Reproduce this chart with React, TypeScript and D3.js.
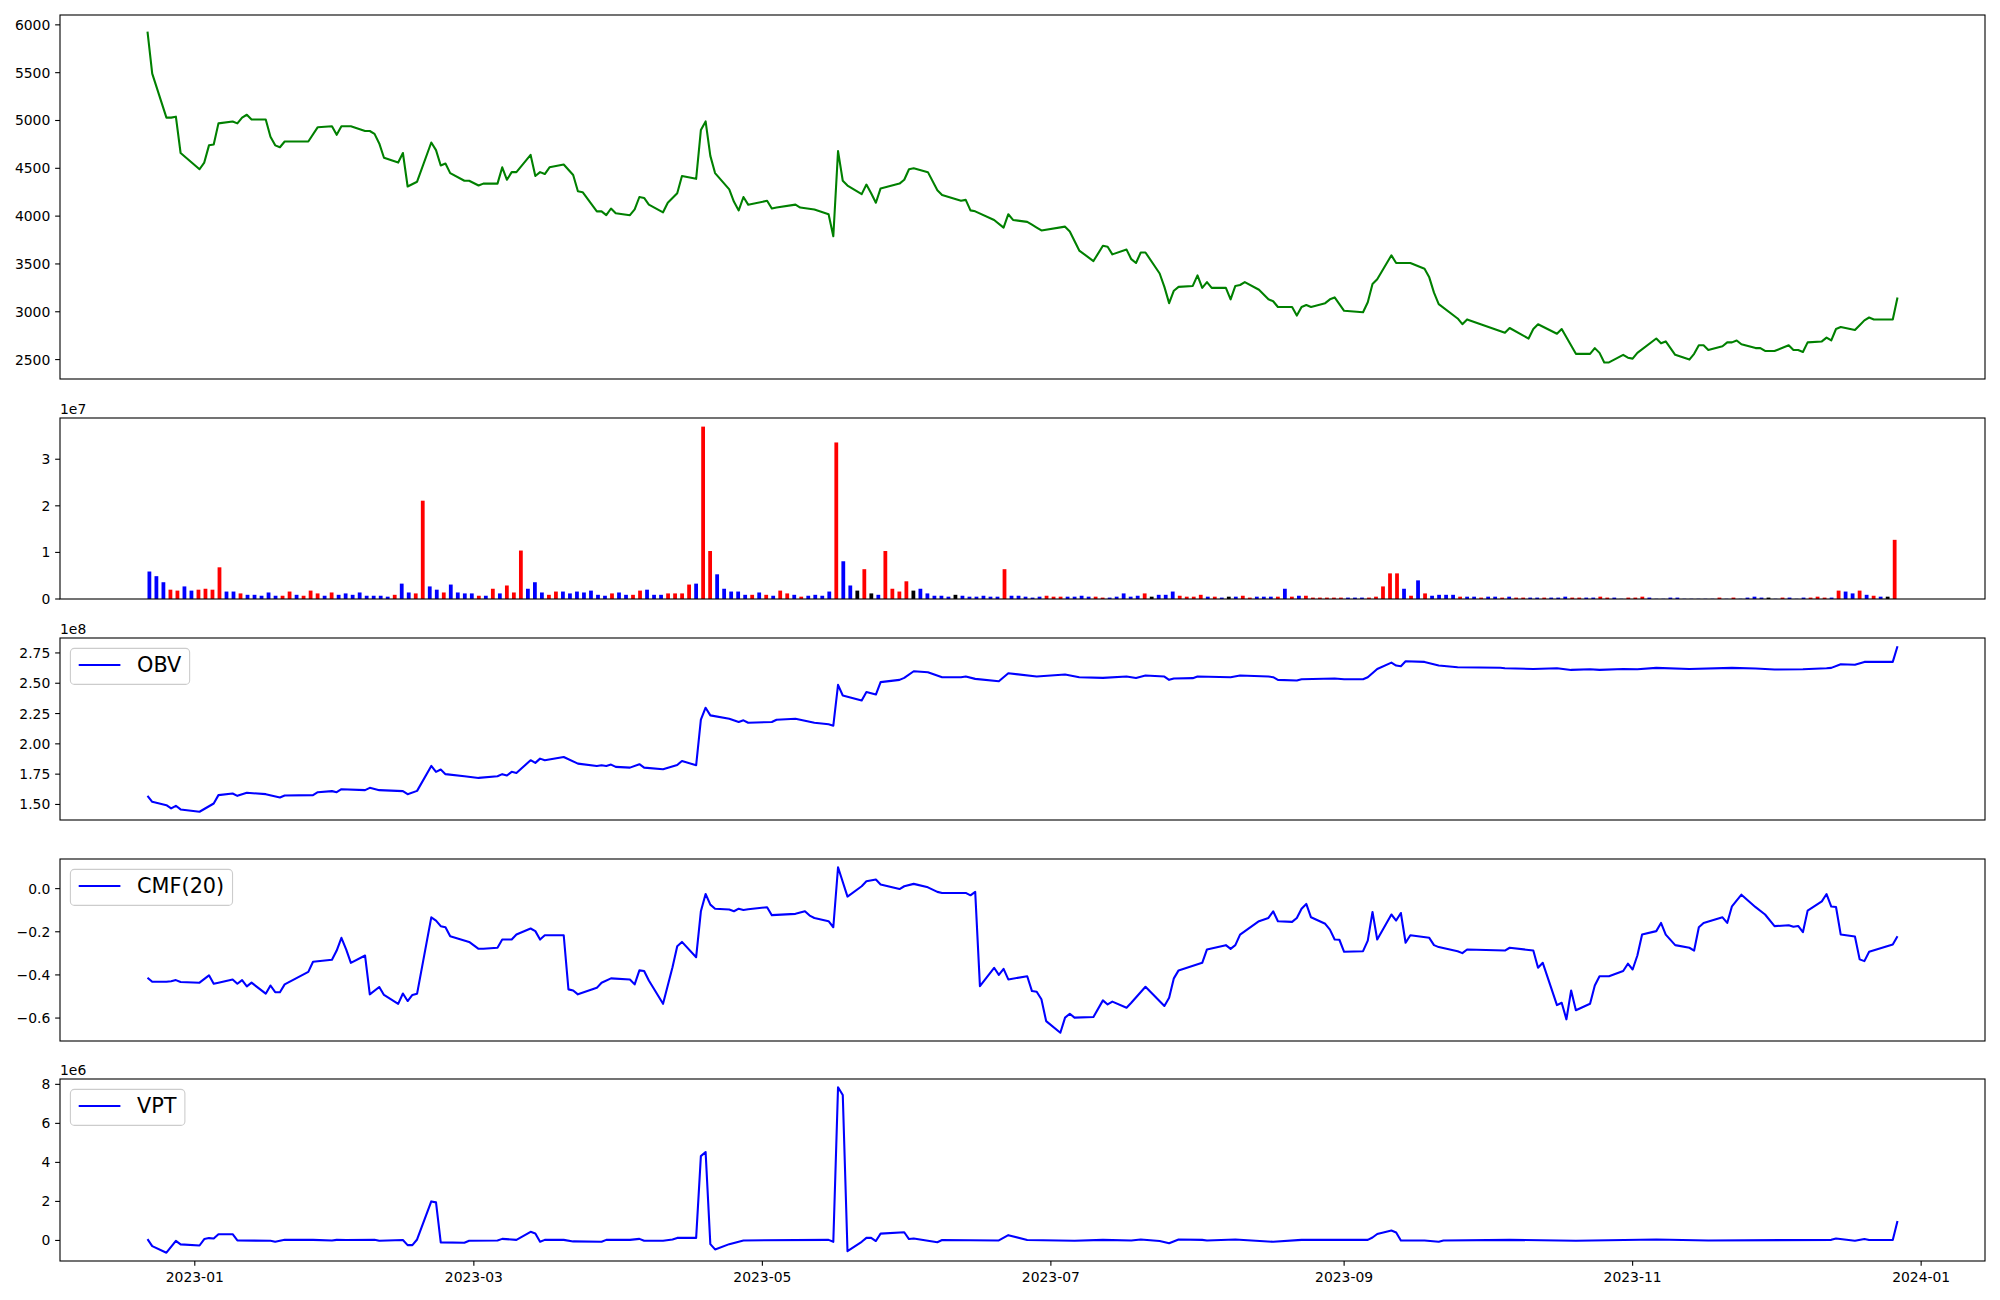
import React, { useEffect, useRef } from 'react';
import * as d3 from 'd3';

// closing price, [date, price] at the visible vertices of the line
const PRICE: [string, number][] = [
  ['2022-12-22', 5930], ['2022-12-23', 5490], ['2022-12-26', 5030], ['2022-12-27', 5030], ['2022-12-28', 5040],
  ['2022-12-29', 4660], ['2023-01-02', 4490], ['2023-01-03', 4560], ['2023-01-04', 4740], ['2023-01-05', 4750],
  ['2023-01-06', 4970], ['2023-01-09', 4990], ['2023-01-10', 4970], ['2023-01-11', 5030], ['2023-01-12', 5060],
  ['2023-01-13', 5010], ['2023-01-16', 5010], ['2023-01-17', 4830], ['2023-01-18', 4740], ['2023-01-19', 4720],
  ['2023-01-20', 4780], ['2023-01-25', 4780], ['2023-01-27', 4930], ['2023-01-30', 4940], ['2023-01-31', 4850],
  ['2023-02-01', 4940], ['2023-02-03', 4940], ['2023-02-06', 4890], ['2023-02-07', 4890], ['2023-02-08', 4860],
  ['2023-02-09', 4760], ['2023-02-10', 4610], ['2023-02-13', 4560], ['2023-02-14', 4660], ['2023-02-15', 4310],
  ['2023-02-17', 4360], ['2023-02-20', 4770], ['2023-02-21', 4690], ['2023-02-22', 4530], ['2023-02-23', 4550],
  ['2023-02-24', 4450], ['2023-02-27', 4370], ['2023-02-28', 4370], ['2023-03-02', 4320], ['2023-03-03', 4340],
  ['2023-03-06', 4340], ['2023-03-07', 4510], ['2023-03-08', 4380], ['2023-03-09', 4460], ['2023-03-10', 4460],
  ['2023-03-13', 4640], ['2023-03-14', 4420], ['2023-03-15', 4460], ['2023-03-16', 4440], ['2023-03-17', 4510],
  ['2023-03-20', 4540], ['2023-03-22', 4430], ['2023-03-23', 4260], ['2023-03-24', 4250], ['2023-03-27', 4050],
  ['2023-03-28', 4050], ['2023-03-29', 4010], ['2023-03-30', 4080], ['2023-03-31', 4030], ['2023-04-03', 4010],
  ['2023-04-04', 4070], ['2023-04-05', 4200], ['2023-04-06', 4190], ['2023-04-07', 4120], ['2023-04-10', 4040],
  ['2023-04-11', 4140], ['2023-04-13', 4240], ['2023-04-14', 4420], ['2023-04-17', 4390], ['2023-04-18', 4900],
  ['2023-04-19', 4990], ['2023-04-20', 4630], ['2023-04-21', 4450], ['2023-04-24', 4280], ['2023-04-25', 4150],
  ['2023-04-26', 4060], ['2023-04-27', 4200], ['2023-04-28', 4120], ['2023-05-02', 4160], ['2023-05-03', 4080],
  ['2023-05-04', 4090], ['2023-05-08', 4120], ['2023-05-09', 4090], ['2023-05-12', 4070], ['2023-05-15', 4020],
  ['2023-05-16', 3790], ['2023-05-17', 4680], ['2023-05-18', 4370], ['2023-05-19', 4320], ['2023-05-22', 4230],
  ['2023-05-23', 4330], ['2023-05-24', 4240], ['2023-05-25', 4140], ['2023-05-26', 4290], ['2023-05-30', 4340],
  ['2023-05-31', 4380], ['2023-06-01', 4490], ['2023-06-02', 4500], ['2023-06-05', 4460], ['2023-06-07', 4270],
  ['2023-06-08', 4220], ['2023-06-12', 4160], ['2023-06-13', 4170], ['2023-06-14', 4060], ['2023-06-15', 4050],
  ['2023-06-19', 3960], ['2023-06-21', 3880], ['2023-06-22', 4020], ['2023-06-23', 3960], ['2023-06-26', 3940],
  ['2023-06-27', 3910], ['2023-06-28', 3880], ['2023-06-29', 3850], ['2023-07-04', 3890], ['2023-07-05', 3840],
  ['2023-07-07', 3640], ['2023-07-10', 3530], ['2023-07-12', 3690], ['2023-07-13', 3680], ['2023-07-14', 3600],
  ['2023-07-17', 3650], ['2023-07-18', 3550], ['2023-07-19', 3510], ['2023-07-20', 3620], ['2023-07-21', 3620],
  ['2023-07-24', 3400], ['2023-07-25', 3260], ['2023-07-26', 3090], ['2023-07-27', 3220], ['2023-07-28', 3260],
  ['2023-07-31', 3270], ['2023-08-01', 3380], ['2023-08-02', 3250], ['2023-08-03', 3310], ['2023-08-04', 3250],
  ['2023-08-07', 3250], ['2023-08-08', 3130], ['2023-08-09', 3270], ['2023-08-10', 3280], ['2023-08-11', 3310],
  ['2023-08-14', 3230], ['2023-08-16', 3130], ['2023-08-17', 3110], ['2023-08-18', 3050], ['2023-08-21', 3050],
  ['2023-08-22', 2960], ['2023-08-23', 3050], ['2023-08-24', 3070], ['2023-08-25', 3050], ['2023-08-28', 3090],
  ['2023-08-29', 3130], ['2023-08-30', 3150], ['2023-08-31', 3080], ['2023-09-01', 3010], ['2023-09-05', 2995],
  ['2023-09-06', 3100], ['2023-09-07', 3290], ['2023-09-08', 3340], ['2023-09-11', 3590], ['2023-09-12', 3510],
  ['2023-09-15', 3510], ['2023-09-18', 3450], ['2023-09-19', 3360], ['2023-09-20', 3200], ['2023-09-21', 3080],
  ['2023-09-25', 2930], ['2023-09-26', 2870], ['2023-09-27', 2920], ['2023-10-05', 2780], ['2023-10-06', 2830],
  ['2023-10-10', 2720], ['2023-10-11', 2820], ['2023-10-12', 2870], ['2023-10-16', 2770], ['2023-10-17', 2820],
  ['2023-10-20', 2560], ['2023-10-23', 2560], ['2023-10-24', 2620], ['2023-10-25', 2570], ['2023-10-26', 2470],
  ['2023-10-27', 2470], ['2023-10-30', 2550], ['2023-10-31', 2520], ['2023-11-01', 2510], ['2023-11-02', 2570],
  ['2023-11-06', 2720], ['2023-11-07', 2670], ['2023-11-08', 2690], ['2023-11-10', 2550], ['2023-11-13', 2500],
  ['2023-11-14', 2560], ['2023-11-15', 2650], ['2023-11-16', 2650], ['2023-11-17', 2600], ['2023-11-20', 2640],
  ['2023-11-21', 2680], ['2023-11-22', 2680], ['2023-11-23', 2700], ['2023-11-24', 2660], ['2023-11-27', 2620],
  ['2023-11-28', 2620], ['2023-11-29', 2590], ['2023-12-01', 2590], ['2023-12-04', 2650], ['2023-12-05', 2600],
  ['2023-12-06', 2600], ['2023-12-07', 2580], ['2023-12-08', 2680], ['2023-12-11', 2690], ['2023-12-12', 2730],
  ['2023-12-13', 2700], ['2023-12-14', 2820], ['2023-12-15', 2840], ['2023-12-18', 2810], ['2023-12-19', 2860],
  ['2023-12-20', 2910], ['2023-12-21', 2940], ['2023-12-22', 2920], ['2023-12-26', 2920], ['2023-12-27', 3150],
];

// daily volume in millions of shares, one per trading day (250)
const VOLUME_M = [
  5.9, 4.9, 3.6, 2.0, 1.8, 2.7, 1.8, 2.0, 2.2, 2.0,
  6.8, 1.6, 1.6, 1.2, 0.9, 0.9, 0.7, 1.4, 0.7, 0.7,
  1.6, 0.9, 0.7, 1.8, 1.2, 0.7, 1.4, 0.9, 1.2, 0.9,
  1.4, 0.7, 0.7, 0.7, 0.5, 0.9, 3.3, 1.4, 1.2, 21.1,
  2.7, 2.0, 1.4, 3.1, 1.4, 1.2, 1.2, 0.7, 0.7, 2.2,
  1.2, 2.9, 1.4, 10.4, 2.2, 3.6, 1.4, 0.9, 1.6, 1.6,
  1.2, 1.6, 1.4, 1.8, 0.9, 0.7, 1.2, 1.4, 0.9, 0.9,
  1.8, 2.0, 0.9, 0.9, 1.2, 1.2, 1.2, 3.1, 3.3, 37.0,
  10.3, 5.3, 2.2, 1.6, 1.6, 0.9, 0.9, 1.4, 0.9, 0.7,
  1.8, 1.2, 0.9, 0.5, 0.7, 0.9, 0.7, 1.6, 33.6, 8.1,
  2.9, 1.8, 6.4, 1.2, 0.9, 10.3, 2.2, 1.6, 3.8, 1.8,
  2.2, 1.2, 0.7, 0.7, 0.5, 0.9, 0.7, 0.5, 0.5, 0.7,
  0.5, 0.5, 6.4, 0.7, 0.7, 0.5, 0.3, 0.5, 0.7, 0.5,
  0.5, 0.5, 0.5, 0.7, 0.5, 0.5, 0.3, 0.3, 0.5, 1.2,
  0.5, 0.7, 1.2, 0.5, 0.9, 0.9, 1.6, 0.7, 0.5, 0.5,
  0.9, 0.5, 0.5, 0.3, 0.5, 0.5, 0.7, 0.3, 0.5, 0.5,
  0.5, 0.5, 2.2, 0.5, 0.7, 0.7, 0.3, 0.3, 0.3, 0.3,
  0.3, 0.3, 0.3, 0.3, 0.3, 0.5, 2.7, 5.5, 5.5, 2.2,
  0.7, 4.0, 1.2, 0.7, 0.9, 0.9, 0.9, 0.5, 0.5, 0.5,
  0.3, 0.5, 0.5, 0.3, 0.5, 0.3, 0.3, 0.3, 0.3, 0.3,
  0.3, 0.3, 0.5, 0.3, 0.3, 0.3, 0.3, 0.5, 0.3, 0.3,
  0.05, 0.3, 0.3, 0.5, 0.3, 0.05, 0.05, 0.3, 0.3, 0.05,
  0.05, 0.05, 0.05, 0.05, 0.3, 0.05, 0.3, 0.05, 0.3, 0.5,
  0.3, 0.3, 0.05, 0.3, 0.3, 0.05, 0.3, 0.3, 0.5, 0.3,
  0.3, 1.8, 1.6, 1.2, 1.8, 0.9, 0.7, 0.5, 0.5, 12.7,
];

// r = close up, b = close down, k = unchanged
const VOLUME_DIR =
  'bbbrrbbrrr' + 'rbbrbbbbbr' + 'rbrrrbrbbb' + 'bbbbbrbbrr' + 'bbrbbbbrbr' +
  'brrrbbbrrb' + 'bbbbbbrbbr' + 'rbbbrrrrbr' + 'rbbbbbrbrb' + 'rrbrbbbbrb' +
  'bkrkbrrrrk' + 'bbbbbkbbbb' + 'bbrbbbbbrr' + 'rbbbbrrbbb' + 'bbrkbbbrrr' +
  'rbrbkbrrbb' + 'brbrbrrrrr' + 'rbbbrrrrrb' + 'rbrbbbbrbb' + 'rbbrbrrbbr' +
  'bbbrrbbrrb' + 'brrrbbbbbb' + 'bbbbrbrbbb' + 'bkbrbbbrrr' + 'brbbrbrbkr';

// on-balance volume, x 1e8
const OBV_E8: [string, number][] = [
  ['2022-12-22', 1.571], ['2022-12-23', 1.522], ['2022-12-26', 1.494], ['2022-12-27', 1.467], ['2022-12-28', 1.489],
  ['2022-12-29', 1.459], ['2023-01-02', 1.440], ['2023-01-05', 1.508], ['2023-01-06', 1.577], ['2023-01-09', 1.590],
  ['2023-01-10', 1.571], ['2023-01-12', 1.596], ['2023-01-16', 1.585], ['2023-01-19', 1.558], ['2023-01-20', 1.574],
  ['2023-01-26', 1.577], ['2023-01-27', 1.601], ['2023-01-30', 1.610], ['2023-01-31', 1.601], ['2023-02-01', 1.626],
  ['2023-02-06', 1.618], ['2023-02-07', 1.637], ['2023-02-09', 1.618], ['2023-02-14', 1.610], ['2023-02-15', 1.585],
  ['2023-02-17', 1.612], ['2023-02-20', 1.818], ['2023-02-21', 1.769], ['2023-02-22', 1.788], ['2023-02-23', 1.750],
  ['2023-02-27', 1.733], ['2023-03-02', 1.719], ['2023-03-06', 1.733], ['2023-03-07', 1.750], ['2023-03-08', 1.739],
  ['2023-03-09', 1.769], ['2023-03-10', 1.760], ['2023-03-13', 1.865], ['2023-03-14', 1.843], ['2023-03-15', 1.878],
  ['2023-03-16', 1.865], ['2023-03-20', 1.892], ['2023-03-23', 1.837], ['2023-03-27', 1.818], ['2023-03-28', 1.823],
  ['2023-03-29', 1.818], ['2023-03-30', 1.829], ['2023-03-31', 1.810], ['2023-04-03', 1.804], ['2023-04-05', 1.832],
  ['2023-04-06', 1.804], ['2023-04-10', 1.791], ['2023-04-13', 1.826], ['2023-04-14', 1.859], ['2023-04-17', 1.823],
  ['2023-04-18', 2.199], ['2023-04-19', 2.298], ['2023-04-20', 2.235], ['2023-04-24', 2.207], ['2023-04-26', 2.180],
  ['2023-04-27', 2.194], ['2023-04-28', 2.174], ['2023-05-03', 2.180], ['2023-05-04', 2.199], ['2023-05-08', 2.207],
  ['2023-05-12', 2.174], ['2023-05-15', 2.161], ['2023-05-16', 2.150], ['2023-05-17', 2.487], ['2023-05-18', 2.399],
  ['2023-05-22', 2.358], ['2023-05-23', 2.427], ['2023-05-25', 2.407], ['2023-05-26', 2.509], ['2023-05-30', 2.528],
  ['2023-05-31', 2.544], ['2023-06-02', 2.599], ['2023-06-05', 2.591], ['2023-06-08', 2.550], ['2023-06-12', 2.550],
  ['2023-06-13', 2.555], ['2023-06-15', 2.536], ['2023-06-20', 2.517], ['2023-06-22', 2.583], ['2023-06-28', 2.555],
  ['2023-07-04', 2.572], ['2023-07-07', 2.550], ['2023-07-12', 2.544], ['2023-07-17', 2.555], ['2023-07-19', 2.544],
  ['2023-07-21', 2.564], ['2023-07-25', 2.555], ['2023-07-26', 2.528], ['2023-07-27', 2.539], ['2023-07-31', 2.542],
  ['2023-08-01', 2.555], ['2023-08-08', 2.550], ['2023-08-10', 2.564], ['2023-08-16', 2.555], ['2023-08-17', 2.550],
  ['2023-08-18', 2.528], ['2023-08-22', 2.522], ['2023-08-23', 2.533], ['2023-08-30', 2.539], ['2023-09-01', 2.533],
  ['2023-09-05', 2.533], ['2023-09-06', 2.550], ['2023-09-08', 2.618], ['2023-09-11', 2.670], ['2023-09-12', 2.646],
  ['2023-09-13', 2.640], ['2023-09-14', 2.681], ['2023-09-18', 2.676], ['2023-09-21', 2.646], ['2023-09-25', 2.632],
  ['2023-10-04', 2.628], ['2023-10-05', 2.624], ['2023-10-11', 2.618], ['2023-10-16', 2.624], ['2023-10-19', 2.610],
  ['2023-10-23', 2.616], ['2023-10-25', 2.610], ['2023-10-30', 2.618], ['2023-11-02', 2.616], ['2023-11-06', 2.627],
  ['2023-11-13', 2.618], ['2023-11-22', 2.627], ['2023-11-27', 2.621], ['2023-12-01', 2.613], ['2023-12-07', 2.616],
  ['2023-12-12', 2.624], ['2023-12-13', 2.627], ['2023-12-15', 2.657], ['2023-12-18', 2.652], ['2023-12-20', 2.676],
  ['2023-12-21', 2.676], ['2023-12-26', 2.676], ['2023-12-27', 2.805],
];

// Chaikin money flow, 20 days
const CMF20: [string, number][] = [
  ['2022-12-22', -0.413], ['2022-12-23', -0.432], ['2022-12-26', -0.432], ['2022-12-27', -0.429], ['2022-12-28', -0.424],
  ['2022-12-29', -0.433], ['2023-01-02', -0.436], ['2023-01-04', -0.402], ['2023-01-05', -0.441], ['2023-01-06', -0.436],
  ['2023-01-09', -0.421], ['2023-01-10', -0.441], ['2023-01-11', -0.424], ['2023-01-12', -0.453], ['2023-01-13', -0.436],
  ['2023-01-16', -0.487], ['2023-01-17', -0.449], ['2023-01-18', -0.480], ['2023-01-19', -0.480], ['2023-01-20', -0.444],
  ['2023-01-25', -0.386], ['2023-01-26', -0.339], ['2023-01-30', -0.330], ['2023-01-31', -0.287], ['2023-02-01', -0.228],
  ['2023-02-02', -0.282], ['2023-02-03', -0.344], ['2023-02-06', -0.310], ['2023-02-07', -0.490], ['2023-02-09', -0.456],
  ['2023-02-10', -0.493], ['2023-02-13', -0.534], ['2023-02-14', -0.486], ['2023-02-15', -0.521], ['2023-02-16', -0.493],
  ['2023-02-17', -0.487], ['2023-02-20', -0.133], ['2023-02-21', -0.148], ['2023-02-22', -0.174], ['2023-02-23', -0.179],
  ['2023-02-24', -0.221], ['2023-02-28', -0.247], ['2023-03-02', -0.279], ['2023-03-03', -0.279], ['2023-03-06', -0.274],
  ['2023-03-07', -0.236], ['2023-03-09', -0.236], ['2023-03-10', -0.213], ['2023-03-13', -0.185], ['2023-03-14', -0.197],
  ['2023-03-15', -0.236], ['2023-03-16', -0.216], ['2023-03-20', -0.216], ['2023-03-21', -0.467], ['2023-03-22', -0.472],
  ['2023-03-23', -0.490], ['2023-03-27', -0.460], ['2023-03-28', -0.436], ['2023-03-30', -0.416], ['2023-04-03', -0.421],
  ['2023-04-04', -0.444], ['2023-04-05', -0.379], ['2023-04-06', -0.382], ['2023-04-07', -0.426], ['2023-04-10', -0.534],
  ['2023-04-12', -0.364], ['2023-04-13', -0.267], ['2023-04-14', -0.247], ['2023-04-17', -0.318], ['2023-04-18', -0.105],
  ['2023-04-19', -0.025], ['2023-04-20', -0.074], ['2023-04-21', -0.093], ['2023-04-24', -0.097], ['2023-04-25', -0.105],
  ['2023-04-26', -0.093], ['2023-04-27', -0.099], ['2023-04-28', -0.096], ['2023-05-02', -0.086], ['2023-05-03', -0.123],
  ['2023-05-08', -0.117], ['2023-05-10', -0.105], ['2023-05-11', -0.125], ['2023-05-12', -0.136], ['2023-05-15', -0.151],
  ['2023-05-16', -0.179], ['2023-05-17', 0.099], ['2023-05-19', -0.037], ['2023-05-22', 0.011], ['2023-05-23', 0.034],
  ['2023-05-25', 0.042], ['2023-05-26', 0.019], ['2023-05-30', -0.002], ['2023-05-31', 0.011], ['2023-06-02', 0.022],
  ['2023-06-05', 0.006], ['2023-06-07', -0.015], ['2023-06-08', -0.020], ['2023-06-13', -0.020], ['2023-06-14', -0.031],
  ['2023-06-15', -0.015], ['2023-06-16', -0.452], ['2023-06-19', -0.367], ['2023-06-20', -0.400], ['2023-06-21', -0.372],
  ['2023-06-22', -0.421], ['2023-06-26', -0.406], ['2023-06-27', -0.475], ['2023-06-28', -0.478], ['2023-06-29', -0.513],
  ['2023-06-30', -0.614], ['2023-07-03', -0.668], ['2023-07-04', -0.598], ['2023-07-05', -0.580], ['2023-07-06', -0.598],
  ['2023-07-10', -0.595], ['2023-07-12', -0.518], ['2023-07-13', -0.537], ['2023-07-14', -0.524], ['2023-07-17', -0.552],
  ['2023-07-18', -0.529], ['2023-07-21', -0.455], ['2023-07-25', -0.544], ['2023-07-26', -0.506], ['2023-07-27', -0.416],
  ['2023-07-28', -0.379], ['2023-08-02', -0.344], ['2023-08-03', -0.282], ['2023-08-07', -0.262], ['2023-08-08', -0.279],
  ['2023-08-09', -0.262], ['2023-08-10', -0.213], ['2023-08-14', -0.151], ['2023-08-16', -0.136], ['2023-08-17', -0.105],
  ['2023-08-18', -0.151], ['2023-08-21', -0.154], ['2023-08-22', -0.136], ['2023-08-23', -0.093], ['2023-08-24', -0.071],
  ['2023-08-25', -0.133], ['2023-08-28', -0.163], ['2023-08-29', -0.190], ['2023-08-30', -0.236], ['2023-08-31', -0.237],
  ['2023-09-01', -0.293], ['2023-09-05', -0.290], ['2023-09-06', -0.241], ['2023-09-07', -0.108], ['2023-09-08', -0.236],
  ['2023-09-11', -0.120], ['2023-09-12', -0.148], ['2023-09-13', -0.113], ['2023-09-14', -0.251], ['2023-09-15', -0.216],
  ['2023-09-19', -0.228], ['2023-09-20', -0.262], ['2023-09-21', -0.271], ['2023-09-25', -0.290], ['2023-09-26', -0.299],
  ['2023-09-27', -0.282], ['2023-10-05', -0.287], ['2023-10-06', -0.274], ['2023-10-11', -0.287], ['2023-10-12', -0.367],
  ['2023-10-13', -0.344], ['2023-10-16', -0.540], ['2023-10-17', -0.529], ['2023-10-18', -0.606], ['2023-10-19', -0.472],
  ['2023-10-20', -0.564], ['2023-10-23', -0.534], ['2023-10-24', -0.449], ['2023-10-25', -0.406], ['2023-10-27', -0.406],
  ['2023-10-30', -0.382], ['2023-10-31', -0.348], ['2023-11-01', -0.375], ['2023-11-02', -0.310], ['2023-11-03', -0.213],
  ['2023-11-06', -0.197], ['2023-11-07', -0.159], ['2023-11-08', -0.213], ['2023-11-10', -0.262], ['2023-11-13', -0.274],
  ['2023-11-14', -0.287], ['2023-11-15', -0.179], ['2023-11-16', -0.159], ['2023-11-20', -0.133], ['2023-11-21', -0.159],
  ['2023-11-22', -0.082], ['2023-11-24', -0.028], ['2023-11-27', -0.086], ['2023-11-29', -0.120], ['2023-12-01', -0.174],
  ['2023-12-04', -0.170], ['2023-12-05', -0.177], ['2023-12-06', -0.173], ['2023-12-07', -0.202], ['2023-12-08', -0.102],
  ['2023-12-11', -0.059], ['2023-12-12', -0.025], ['2023-12-13', -0.083], ['2023-12-14', -0.085], ['2023-12-15', -0.213],
  ['2023-12-18', -0.222], ['2023-12-19', -0.328], ['2023-12-20', -0.336], ['2023-12-21', -0.293], ['2023-12-26', -0.259],
  ['2023-12-27', -0.221],
];

// volume price trend, x 1e6
const VPT_E6: [string, number][] = [
  ['2022-12-22', 0.07], ['2022-12-23', -0.29], ['2022-12-26', -0.63], ['2022-12-28', -0.02], ['2022-12-29', -0.2],
  ['2023-01-02', -0.26], ['2023-01-03', 0.07], ['2023-01-04', 0.12], ['2023-01-05', 0.10], ['2023-01-06', 0.32],
  ['2023-01-09', 0.32], ['2023-01-10', 0.0], ['2023-01-17', -0.02], ['2023-01-18', -0.07], ['2023-01-20', 0.03],
  ['2023-01-26', 0.03], ['2023-01-30', 0.0], ['2023-01-31', 0.03], ['2023-02-02', 0.02], ['2023-02-08', 0.03],
  ['2023-02-09', -0.02], ['2023-02-14', 0.02], ['2023-02-15', -0.24], ['2023-02-16', -0.24], ['2023-02-17', 0.05],
  ['2023-02-20', 2.0], ['2023-02-21', 1.95], ['2023-02-22', -0.1], ['2023-02-27', -0.12], ['2023-02-28', -0.02],
  ['2023-03-06', 0.0], ['2023-03-07', 0.08], ['2023-03-10', 0.03], ['2023-03-13', 0.44], ['2023-03-14', 0.36],
  ['2023-03-15', -0.07], ['2023-03-16', 0.03], ['2023-03-20', 0.03], ['2023-03-22', -0.05], ['2023-03-28', -0.07],
  ['2023-03-29', 0.03], ['2023-04-03', 0.03], ['2023-04-05', 0.08], ['2023-04-06', -0.02], ['2023-04-10', -0.02],
  ['2023-04-12', 0.05], ['2023-04-13', 0.13], ['2023-04-17', 0.13], ['2023-04-18', 4.32], ['2023-04-19', 4.53],
  ['2023-04-20', -0.19], ['2023-04-21', -0.46], ['2023-04-24', -0.19], ['2023-04-27', 0.0], ['2023-05-15', 0.03],
  ['2023-05-16', -0.07], ['2023-05-17', 7.85], ['2023-05-18', 7.45], ['2023-05-19', -0.55], ['2023-05-22', -0.07],
  ['2023-05-23', 0.13], ['2023-05-24', 0.13], ['2023-05-25', -0.03], ['2023-05-26', 0.35], ['2023-05-31', 0.42],
  ['2023-06-01', 0.07], ['2023-06-02', 0.1], ['2023-06-07', -0.09], ['2023-06-08', 0.02], ['2023-06-20', 0.0],
  ['2023-06-22', 0.27], ['2023-06-26', 0.02], ['2023-07-06', -0.02], ['2023-07-12', 0.03], ['2023-07-18', 0.0],
  ['2023-07-20', 0.05], ['2023-07-24', -0.03], ['2023-07-26', -0.14], ['2023-07-28', 0.05], ['2023-08-02', 0.03],
  ['2023-08-03', 0.0], ['2023-08-09', 0.05], ['2023-08-17', -0.07], ['2023-08-23', 0.03], ['2023-09-06', 0.03],
  ['2023-09-07', 0.15], ['2023-09-08', 0.33], ['2023-09-11', 0.51], ['2023-09-12', 0.41], ['2023-09-13', 0.0],
  ['2023-09-18', 0.0], ['2023-09-21', -0.07], ['2023-09-22', 0.0], ['2023-10-06', 0.03], ['2023-10-20', -0.02],
  ['2023-11-06', 0.05], ['2023-11-17', 0.0], ['2023-12-13', 0.03], ['2023-12-14', 0.1], ['2023-12-18', -0.02],
  ['2023-12-20', 0.07], ['2023-12-21', 0.02], ['2023-12-26', 0.02], ['2023-12-27', 1.0],
];

const PRICE_TICKS = [2500, 3000, 3500, 4000, 4500, 5000, 5500, 6000];
const VOLUME_TICKS = [0, 1, 2, 3]; // x 1e7
const OBV_TICKS = [1.5, 1.75, 2.0, 2.25, 2.5, 2.75]; // x 1e8
const CMF_TICKS = [-0.6, -0.4, -0.2, 0.0];
const VPT_TICKS = [0, 2, 4, 6, 8]; // x 1e6

const FIRST_DAY = '2022-12-22';
const LAST_DAY = '2023-12-27';
const BAR_LAST_DAY = '2023-12-26';

const BAR_COLORS: Record<string, string> = { r: '#ff0000', b: '#0000ff', k: '#000000' };

const FONT = 'DejaVu Sans';
const TICK_FS = 13.9;
const LEGEND_FS = 20.8;

export default function App() {
  const svgRef = useRef<SVGSVGElement>(null);

  useEffect(() => {
    if (!svgRef.current) return;
    const svg = d3.select(svgRef.current);
    svg.selectAll('*').remove();

    const left = 60;
    const right = 1985;
    const rows = [[15, 379], [418, 599], [638, 820], [859, 1041], [1079, 1261]];
    const tickLen = 4.86;

    const parse = d3.utcParse('%Y-%m-%d');
    const t0 = +parse(FIRST_DAY)!;
    const t1 = +parse(LAST_DAY)!;
    const xPad = (t1 - t0) * 0.05;
    const x = d3.scaleUtc()
      .domain([new Date(t0 - xPad), new Date(t1 + xPad)])
      .range([left, right]);

    const padded = (vals: number[]): [number, number] => {
      const [lo, hi] = d3.extent(vals) as [number, number];
      const m = (hi - lo) * 0.05;
      return [lo - m, hi + m];
    };

    const yAxis = (top: number, bottom: number, y: d3.ScaleLinear<number, number>,
      ticks: number[], fmt: (v: number) => string, offset?: string) => {
      const g = svg.append('g');
      ticks.forEach(t => {
        const yy = y(t);
        g.append('line')
          .attr('x1', left - tickLen).attr('x2', left)
          .attr('y1', yy).attr('y2', yy)
          .attr('stroke', '#000').attr('stroke-width', 1.1);
        g.append('text')
          .attr('x', left - tickLen - 4.86).attr('y', yy).attr('dy', '0.36em')
          .attr('text-anchor', 'end')
          .attr('font-family', FONT).attr('font-size', TICK_FS)
          .text(fmt(t));
      });
      if (offset) {
        g.append('text')
          .attr('x', left).attr('y', top - 4.5)
          .attr('font-family', FONT).attr('font-size', TICK_FS)
          .text(offset);
      }
    };

    const spine = (top: number, bottom: number) => {
      svg.append('rect')
        .attr('x', left).attr('y', top)
        .attr('width', right - left).attr('height', bottom - top)
        .attr('fill', 'none').attr('stroke', '#000').attr('stroke-width', 1.1);
    };

    const drawLine = (data: [string, number][], y: d3.ScaleLinear<number, number>, color: string) => {
      const line = d3.line<[string, number]>()
        .x(d => x(parse(d[0])!))
        .y(d => y(d[1]));
      svg.append('path')
        .datum(data)
        .attr('fill', 'none')
        .attr('stroke', color)
        .attr('stroke-width', 2.08)
        .attr('stroke-linejoin', 'round')
        .attr('d', line);
    };

    const legend = (top: number, label: string) => {
      const g = svg.append('g');
      const bx = left + 10.4;
      const by = top + 10.4;
      const rect = g.append('rect')
        .attr('x', bx).attr('y', by).attr('height', 36)
        .attr('rx', 4).attr('ry', 4)
        .attr('fill', '#fff').attr('fill-opacity', 0.8)
        .attr('stroke', '#cccccc').attr('stroke-width', 1.1);
      g.append('line')
        .attr('x1', bx + 8.3).attr('x2', bx + 50)
        .attr('y1', by + 16.6).attr('y2', by + 16.6)
        .attr('stroke', '#0000ff').attr('stroke-width', 2.08);
      const txt = g.append('text')
        .attr('x', bx + 66.7).attr('y', by + 23.6)
        .attr('font-family', FONT).attr('font-size', LEGEND_FS)
        .text(label);
      const tw = (txt.node() as SVGTextElement).getComputedTextLength();
      rect.attr('width', 66.7 + tw + 8.3);
    };

    // price
    const [p0, p1] = rows[0];
    const yPrice = d3.scaleLinear().domain(padded(PRICE.map(d => d[1]))).range([p1, p0]);
    drawLine(PRICE, yPrice, '#008000');
    yAxis(p0, p1, yPrice, PRICE_TICKS, d3.format('d'));
    spine(p0, p1);

    // volume bars, evenly spaced between first and last bar dates
    const [v0, v1] = rows[1];
    const yVol = d3.scaleLinear().domain([0, d3.max(VOLUME_M)! * 1.05]).range([v1, v0]);
    const barT = d3.scaleLinear()
      .domain([0, VOLUME_M.length - 1])
      .range([t0, +parse(BAR_LAST_DAY)!]);
    const barW = x(new Date(t0 + 0.8 * 864e5)) - x(new Date(t0));
    svg.append('g').selectAll('rect')
      .data(VOLUME_M)
      .enter()
      .append('rect')
      .attr('x', (_, i) => x(new Date(barT(i))))
      .attr('y', d => yVol(d))
      .attr('width', barW)
      .attr('height', d => v1 - yVol(d))
      .attr('fill', (_, i) => BAR_COLORS[VOLUME_DIR[i]]);
    yAxis(v0, v1, yVol, VOLUME_TICKS.map(t => t * 10), v => d3.format('d')(v / 10), '1e7');
    spine(v0, v1);

    // OBV
    const [o0, o1] = rows[2];
    const yObv = d3.scaleLinear().domain(padded(OBV_E8.map(d => d[1]))).range([o1, o0]);
    drawLine(OBV_E8, yObv, '#0000ff');
    yAxis(o0, o1, yObv, OBV_TICKS, d3.format('.2f'), '1e8');
    spine(o0, o1);
    legend(o0, 'OBV');

    // CMF
    const [c0, c1] = rows[3];
    const yCmf = d3.scaleLinear().domain(padded(CMF20.map(d => d[1]))).range([c1, c0]);
    drawLine(CMF20, yCmf, '#0000ff');
    yAxis(c0, c1, yCmf, CMF_TICKS, d3.format('.1f'));
    spine(c0, c1);
    legend(c0, 'CMF(20)');

    // VPT
    const [w0, w1] = rows[4];
    const yVpt = d3.scaleLinear().domain(padded(VPT_E6.map(d => d[1]))).range([w1, w0]);
    drawLine(VPT_E6, yVpt, '#0000ff');
    yAxis(w0, w1, yVpt, VPT_TICKS, d3.format('d'), '1e6');
    spine(w0, w1);
    legend(w0, 'VPT');

    // date axis on the bottom panel only
    const xg = svg.append('g');
    x.ticks(d3.utcMonth.every(2)!).forEach(t => {
      const xx = x(t);
      xg.append('line')
        .attr('x1', xx).attr('x2', xx)
        .attr('y1', w1).attr('y2', w1 + tickLen)
        .attr('stroke', '#000').attr('stroke-width', 1.1);
      xg.append('text')
        .attr('x', xx).attr('y', w1 + 21)
        .attr('text-anchor', 'middle')
        .attr('font-family', FONT).attr('font-size', TICK_FS)
        .text(d3.utcFormat('%Y-%m')(t));
    });
  }, []);

  return (
    <div style={{ position: 'absolute', left: 0, top: 0, width: 2000, height: 1300, background: '#fff' }}>
      <svg ref={svgRef} width={2000} height={1300} style={{ display: 'block' }}></svg>
    </div>
  );
}
